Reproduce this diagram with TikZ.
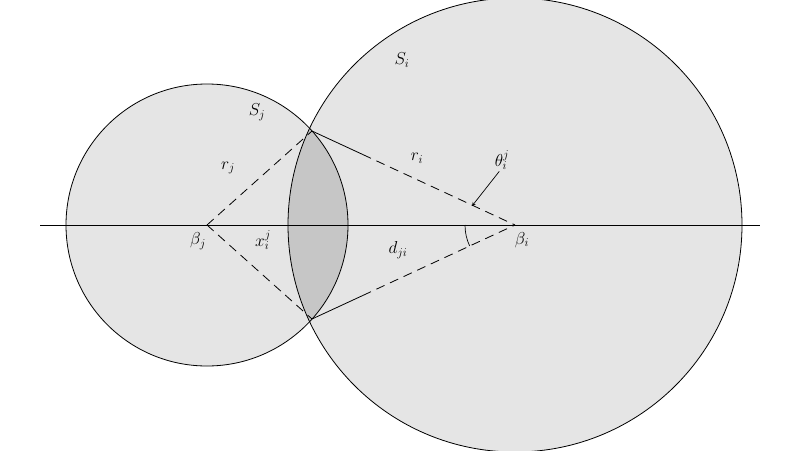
\documentclass[tikz,border=0pt]{standalone}
\usetikzlibrary{calc}
\begin{document}
\begin{tikzpicture}[x=1pt,y=-1pt,
  lbl/.style={font=\fontsize{17}{19}\selectfont},
  dline/.style={dashed,dash pattern=on 9pt off 6pt,line width=0.8pt}]
\useasboundingbox (0,0) rectangle (800,450);
\fill[white] (0,0) rectangle (800,450);
\coordinate (bj) at (207,225);
\coordinate (bi) at (515,225);
\coordinate (pu) at (312,131);
\coordinate (pd) at (312,319);
\fill[gray!20] (bj) circle (141);
\fill[gray!20] (bi) circle (227);
\begin{scope}
\clip (bj) circle (141);
\fill[gray!45] (bi) circle (227);
\end{scope}
\draw[line width=0.8pt] (bj) circle (141);
\draw[line width=0.8pt] (bi) circle (227);
\draw[line width=0.7pt] (40,225) coordinate (l0) -- (760,225) coordinate (l1);
\draw[dline] (bj) -- (pu);
\draw[dline] (bj) -- (pd);
\draw[line width=0.8pt] (pu) -- ($(pu)!0.25!(bi)$) coordinate (mu);
\draw[dline] (mu) -- (bi);
\draw[line width=0.8pt] (pd) -- ($(pd)!0.25!(bi)$) coordinate (md);
\draw[dline] (md) -- (bi);
\draw[line width=0.7pt] ($(bi)+(180:50)$) arc (180:155.2:50);
\node[lbl] (si) at (402,60) {$S_i$};
\node[lbl] (sj) at (257,112) {$S_j$};
\node[lbl] (rj) at (228,168) {$r_j$};
\node[lbl] (ri) at (417,158) {$r_i$};
\node[lbl] (th) at (502,160) {$\theta_i^j$};
\node[lbl] (bjl) at (198,241) {$\beta_j$};
\node[lbl] (xij) at (263,240) {$x_i^j$};
\node[lbl] (dji) at (398,250) {$d_{ji}$};
\node[lbl] (bil) at (522,240) {$\beta_i$};
\coordinate (tip) at (472,206);
\draw[-stealth,line width=0.7pt] ($(th.south west)+(8,-2)$) -- (tip);
\end{tikzpicture}
\end{document}
